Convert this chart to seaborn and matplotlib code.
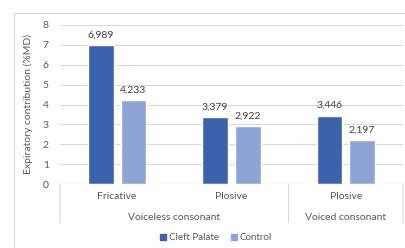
import pandas as pd
import matplotlib.pyplot as plt
import seaborn as sns
from matplotlib.patches import Rectangle

# --- data ---
sounds = ["Fricative", "Plosive", "Plosive"]
voicing = ["Voiceless consonant", "Voiceless consonant", "Voiced consonant"]
cleft = [6.989, 3.379, 3.446]
control = [4.233, 2.922, 2.197]
groups = ["Cleft Palate", "Control"]
colors = ["#3C62AC", "#8FA4D6"]

keys = [f"{s}_{i}" for i, s in enumerate(sounds)]
df = pd.DataFrame({
    "key": keys * 2,
    "group": [groups[0]] * 3 + [groups[1]] * 3,
    "value": cleft + control,
})

sns.set_style("white")
plt.rcParams["font.family"] = ["Lato", "DejaVu Sans"]
txt = "#595959"
fs = 7.5

fig = plt.figure(figsize=(4.06, 2.48), dpi=100)
fig.patches.append(Rectangle((14 / 406, -0.1), 1.2, (248 - 13) / 248 + 0.1,
                             transform=fig.transFigure, fill=False,
                             edgecolor="#D9D9D9", linewidth=0.8))
ax = fig.add_axes([60 / 406, (248 - 184) / 248, 343 / 406, 159 / 248])

sns.barplot(data=df, x="key", y="value", hue="group", palette=colors,
            width=0.57, gap=0.21, ax=ax, legend=False, saturation=1)

ax.set_ylim(0, 8)
ax.set_xlim(-0.5, 2.5)
ax.set_yticks(range(0, 9))
ax.yaxis.grid(True, color="#D9D9D9", linewidth=0.8)
ax.set_axisbelow(True)
for s in ax.spines.values():
    s.set_visible(False)
ax.tick_params(axis="y", length=0, labelsize=fs, labelcolor=txt, pad=8)
ax.set_xticks([])
ax.set_xlabel("")
ax.set_ylabel("Expiratory contribution (%MD)", fontsize=fs, color=txt, labelpad=7)

# value labels
for cont in ax.containers:
    for bar in cont:
        h = bar.get_height()
        ax.annotate(f"{h:.3f}".replace(".", ","), (bar.get_x() + bar.get_width() / 2, h),
                    xytext=(0, 4), textcoords="offset points", ha="center", va="bottom",
                    fontsize=fs, color="#404040")

# category axis
for i, s in enumerate(sounds):
    ax.annotate(s, (i, 0), xycoords=("data", "axes fraction"), xytext=(0, -9),
                textcoords="offset points", ha="center", va="center", fontsize=fs, color=txt)
spans = {}
for i, v in enumerate(voicing):
    spans.setdefault(v, []).append(i)
for v, idx in spans.items():
    ax.annotate(v, ((idx[0] + idx[-1]) / 2, 0), xycoords=("data", "axes fraction"),
                xytext=(0, -24), textcoords="offset points", ha="center", va="center",
                fontsize=fs, color=txt)
bounds = [-0.5] + [idx[-1] + 0.5 for idx in spans.values()]
for b in bounds:
    ax.annotate("", (b, 0), xycoords=("data", "axes fraction"), xytext=(b, -0.245),
                textcoords=("data", "axes fraction"),
                arrowprops=dict(arrowstyle="-", color="#D9D9D9", linewidth=0.8,
                                shrinkA=0, shrinkB=0))
ax.axhline(0, color="#D9D9D9", linewidth=0.8)

handles = [Rectangle((0, 0), 1, 1, color=c) for c in colors]
fig.legend(handles, groups, loc="center", bbox_to_anchor=(216 / 406, 10 / 248), ncol=2,
           frameon=False, fontsize=7, handlelength=0.6, handleheight=0.6,
           handletextpad=0.3, columnspacing=1.2, labelcolor=txt)

fig.savefig("out.png", dpi=100)
